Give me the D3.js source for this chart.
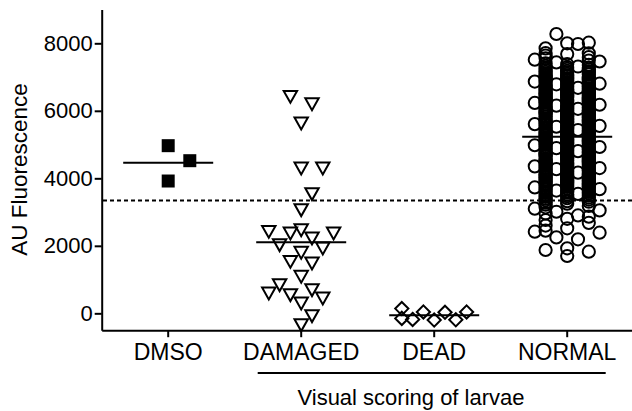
<!DOCTYPE html>
<html><head><meta charset="utf-8">
<script src="https://cdn.jsdelivr.net/npm/d3@7"></script>
<style>
html,body{margin:0;padding:0;background:#fff;}
svg{display:block;font-family:"Liberation Sans",Arial,Helvetica,sans-serif;}
</style></head><body>
<svg id="chart" width="632" height="411"></svg>
<script>
// ---------------- data ----------------
const categories = ["DMSO", "DAMAGED", "DEAD", "NORMAL"];
const dmsoValues = [4967, 4522, 3920];
const damagedValues = [6418, 6201, 5630, 4296, 4296, 3535, 3061, 2468, 2418, 2370, 2370, 2222, 2024,
  1926, 1797, 1530, 1481, 1086, 839, 691, 593, 543, 444, 296, -79, -346];
const deadValues = [40, -180, 30, -200, 140, -150, -190, 40];
const normalValues = [
  1698, 1827, 1876, 1926, 2193, 2250, 2388, 2418, 2448, 2518, 2600, 2680, 2765, 2800, 2862, 2900,
  2960, 3010, 3050, 3100, 3140, 3180, 3220, 3250, 3280,
  3305, 3322, 3348, 3371, 3394, 3411, 3430, 3452, 3468, 3489,
  3503, 3519, 3536, 3551, 3567, 3584, 3598, 3608, 3621, 3637, 3650, 3666, 3679, 3693,
  3704, 3716, 3729, 3743, 3755, 3770, 3782, 3796, 3807, 3819, 3833, 3846, 3858, 3871, 3885, 3898,
  3902, 3915, 3927, 3941, 3954, 3968, 3980, 3993, 4006, 4018, 4031, 4045, 4057, 4070, 4083, 4097,
  4104, 4116, 4130, 4142, 4155, 4169, 4181, 4194, 4208, 4220, 4233, 4247, 4259, 4272, 4286, 4299,
  4303, 4315, 4328, 4341, 4354, 4367, 4380, 4392, 4405, 4418, 4431, 4443, 4456, 4470, 4483, 4496,
  4502, 4514, 4527, 4540, 4553, 4566, 4579, 4591, 4607, 4619, 4632, 4645, 4658, 4671, 4684, 4697,
  4701, 4713, 4726, 4739, 4752, 4765, 4778, 4790, 4806, 4818, 4831, 4844, 4857, 4870, 4883, 4895,
  4903, 4915, 4928, 4941, 4954, 4967, 4980, 4992, 5008, 5020, 5033, 5046, 5059, 5072, 5085, 5098,
  5102, 5114, 5127, 5140, 5153, 5166, 5179, 5191, 5205, 5217, 5230, 5243, 5256, 5269, 5282, 5294,
  5301, 5313, 5326, 5339, 5352, 5365, 5378, 5390, 5407, 5419, 5432, 5445, 5458, 5471, 5484, 5497,
  5503, 5515, 5528, 5541, 5554, 5567, 5580, 5592, 5606, 5618, 5631, 5644, 5657, 5670, 5683, 5695,
  5702, 5714, 5727, 5740, 5753, 5766, 5779, 5791, 5808, 5820, 5833, 5846, 5859, 5872, 5885, 5898,
  5904, 5916, 5929, 5942, 5955, 5968, 5981, 5993, 6007, 6019, 6032, 6045, 6058, 6071, 6084, 6096,
  6103, 6115, 6128, 6141, 6154, 6167, 6180, 6192, 6209, 6221, 6234, 6247, 6260, 6273, 6286, 6299,
  6302, 6314, 6327, 6340, 6353, 6366, 6379, 6391, 6406, 6418, 6431, 6444, 6457, 6470, 6483, 6495,
  6501, 6513, 6526, 6539, 6552, 6565, 6578, 6590, 6605, 6617, 6630, 6643, 6656, 6669, 6682, 6694,
  6708, 6720, 6733, 6746, 6759, 6772, 6785, 6797, 6803, 6815, 6828, 6841, 6854, 6867, 6880, 6892,
  6906, 6918, 6931, 6944, 6957, 6970, 6983, 6995,
  7004, 7018, 7033, 7049, 7062, 7078, 7093, 7108, 7124, 7139, 7155, 7170, 7186,
  7203, 7221, 7240, 7258, 7277, 7294, 7312, 7335, 7359, 7381, 7406, 7433, 7461, 7488,
  7515, 7556, 7590, 7632, 7680,
  7703, 7710, 7850, 7980, 8000, 8019, 8276];
const centerLineValues = [4463, 2104, -60, 5232];
const thresholdValue = 3340;
const yTickValues = [0, 2000, 4000, 6000, 8000];
const yAxisTitle = "AU Fluorescence";
const groupTitle = "Visual scoring of larvae";

const groups = [
  {name: "DMSO", values: dmsoValues, shape: "square"},
  {name: "DAMAGED", values: damagedValues, shape: "triangleDown"},
  {name: "DEAD", values: deadValues, shape: "diamond"},
  {name: "NORMAL", values: normalValues, shape: "circle"}
];

// ---------------- layout / style ----------------
const svg = d3.select("#chart");
const FONT = 22;
const x = d3.scaleBand().domain(categories).range([101.7, 633.7]).padding(0);
const y = d3.scaleLinear().domain([-500, 9000]).range([330.2, 9.55]);
const cx = c => x(c) + x.bandwidth() / 2;

const swarmCfg = {
  DMSO:    {unit: 10.8, slots: [0, 2, -2, 3, -3], overflow: [0, 2, -2], minDist: 13, sameGap: 21},
  DAMAGED: {unit: 10.8, slots: [0, 1, -1, 2, -2, 3, -3], overflow: [0, 1, -1, 2, -2, 3, -3], minDist: 13.5, sameGap: 21},
  DEAD:    {unit: 10.8, slots: [0, 1, -1, 2, -2, 3, -3], overflow: [0, 1, -1, 2, -2, 3, -3], minDist: 13, sameGap: 21},
  NORMAL:  {unit: 10.8, slots: [0, 2, -2, 1, -1, 3, -3], overflow: [0, -2, 2], minDist: 13, sameGap: 21}
};

function swarm(values, cfg) {
  const pts = values.map(v => ({v, py: y(v), dx: 0}));
  const order = pts.slice().sort((a, b) => a.v - b.v);
  const placed = [];
  const hits = (dx, py, q) => {
    const ddx = dx - q.dx, ddy = py - q.py;
    if (Math.abs(ddx) < 0.5 && Math.abs(ddy) < cfg.sameGap) return true;
    return Math.hypot(ddx, ddy) < cfg.minDist;
  };
  const rest = [];
  for (const p of order) {
    let ok = false;
    for (const k of cfg.slots) {
      const dx = k * cfg.unit;
      if (!placed.some(q => hits(dx, p.py, q))) { p.dx = dx; placed.push(p); ok = true; break; }
    }
    if (!ok) rest.push(p);
  }
  for (const p of rest) {
    let best = 0, bestD = -1;
    for (const k of cfg.overflow) {
      const dx = k * cfg.unit;
      let m = Infinity;
      for (const q of placed) { const d = Math.hypot(dx - q.dx, p.py - q.py); if (d < m) m = d; }
      if (m > bestD + 0.01) { bestD = m; best = dx; }
    }
    p.dx = best; placed.push(p);
  }
  return pts;
}

const shapes = {
  square: {draw(ctx) { const h = 6.5; ctx.rect(-h, -h, 2 * h, 2 * h); }},
  triangleDown: {draw(ctx) { ctx.moveTo(-6.7, -5.8); ctx.lineTo(6.7, -5.8); ctx.lineTo(0, 6.1); ctx.closePath(); }},
  diamond: {draw(ctx) { const h = 6.6; ctx.moveTo(0, -h); ctx.lineTo(h, 0); ctx.lineTo(0, h); ctx.lineTo(-h, 0); ctx.closePath(); }},
  circle: {draw(ctx) { const r = 6.1; ctx.moveTo(r, 0); ctx.arc(0, 0, r, 0, 2 * Math.PI); }}
};

// threshold dotted line
svg.append("line")
  .attr("x1", 103).attr("x2", 632)
  .attr("y1", y(thresholdValue)).attr("y2", y(thresholdValue))
  .attr("stroke", "#000").attr("stroke-width", 2).attr("stroke-dasharray", "4,3");

// points
groups.forEach(g => {
  const pts = swarm(g.values, swarmCfg[g.name]);
  const filled = g.shape === "square";
  svg.append("g").selectAll("path").data(pts).join("path")
    .attr("d", d3.symbol().type(shapes[g.shape])())
    .attr("transform", d => `translate(${cx(g.name) + d.dx},${d.py})`)
    .attr("fill", filled ? "#000" : "none")
    .attr("stroke", filled ? "none" : "#000")
    .attr("stroke-width", 2);
});

// center lines
svg.append("g").selectAll("line").data(categories).join("line")
  .attr("x1", (c) => cx(c) - 45).attr("x2", (c) => cx(c) + 45)
  .attr("y1", (c, i) => y(centerLineValues[i])).attr("y2", (c, i) => y(centerLineValues[i]))
  .attr("stroke", "#000").attr("stroke-width", 2);

// axes
const yAxis = svg.append("g").attr("transform", "translate(101.7,0)")
  .call(d3.axisLeft(y).tickValues(yTickValues).tickFormat(d3.format("d")).tickSize(7).tickSizeOuter(0).tickPadding(2));
const xAxis = svg.append("g").attr("transform", "translate(0,330.2)")
  .call(d3.axisBottom(x).tickSize(7).tickSizeOuter(0).tickPadding(6));
[yAxis, xAxis].forEach(a => {
  a.select(".domain").attr("stroke", "#000").attr("stroke-width", 2);
  a.selectAll(".tick line").attr("stroke", "#000").attr("stroke-width", 2);
  a.selectAll(".tick text").attr("fill", "#000").style("font-size", FONT + "px")
    .style("font-family", '"Liberation Sans", Arial, sans-serif');
});
xAxis.selectAll(".tick text").style("font-size", "23px");

// y title
svg.append("text")
  .attr("transform", "translate(27,169.5) rotate(-90)")
  .attr("text-anchor", "middle").attr("fill", "#000")
  .style("font-size", "22.5px").text(yAxisTitle);

// group bracket line + title
svg.append("line")
  .attr("x1", cx("DAMAGED") - 43.5).attr("x2", cx("NORMAL") + 38.5)
  .attr("y1", 373).attr("y2", 373)
  .attr("stroke", "#000").attr("stroke-width", 2);
svg.append("text")
  .attr("x", 411).attr("y", 405)
  .attr("text-anchor", "middle").attr("fill", "#000")
  .style("font-size", FONT + "px").text(groupTitle);
</script>
</body></html>
